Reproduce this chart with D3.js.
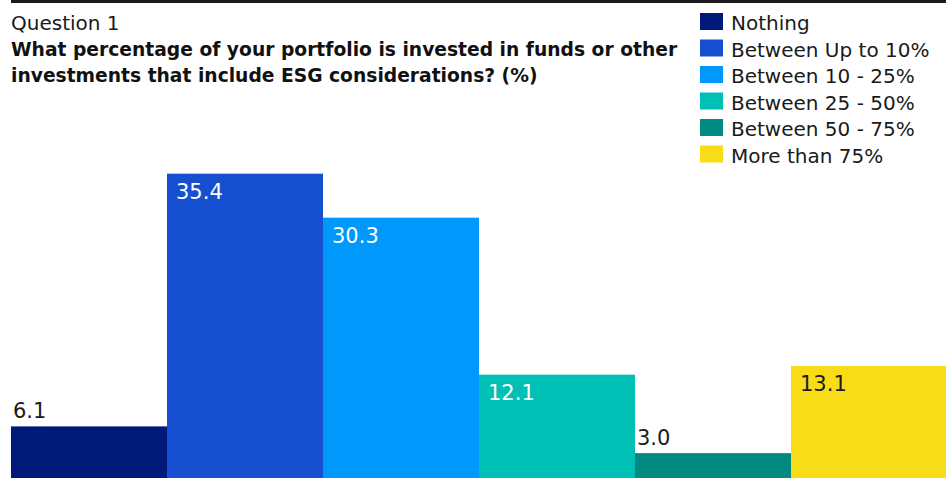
<!DOCTYPE html>
<html>
<head>
<meta charset="utf-8">
<script src="https://cdn.jsdelivr.net/npm/d3@7"></script>
<style>
  html, body { margin: 0; padding: 0; background: #fff; }
  svg { display: block; font-family: "DejaVu Sans", sans-serif; }
</style>
</head>
<body>
<div id="chart"></div>
<script>
// categories and values
const categories = ['Nothing', 'Between Up to 10%', 'Between 10 - 25%', 'Between 25 - 50%', 'Between 50 - 75%', 'More than 75%'];
const values = [6.1, 35.4, 30.3, 12.1, 3.0, 13.1];
const colors = ['#001a7a', '#1650d0', '#0098fa', '#00c0b5', '#008a80', '#f8dc18'];
const labelColors = ['#1a1a1a', '#ffffff', '#ffffff', '#ffffff', '#1a1a1a', '#1a1a1a'];

const questionLabel = 'Question 1';
const titleLines = [
    'What percentage of your portfolio is invested in funds or other',
    'investments that include ESG considerations? (%)'
];

const width = 946, height = 478;

const svg = d3.select('#chart').append('svg')
    .attr('width', width)
    .attr('height', height);

// top rule
svg.append('rect')
    .attr('x', 11).attr('y', 0)
    .attr('width', width - 11).attr('height', 3)
    .attr('fill', '#1a1a1a');

// title
svg.append('text')
    .attr('x', 11).attr('y', 30)
    .attr('font-size', 20)
    .attr('fill', '#1a1a1a')
    .text(questionLabel);

svg.selectAll('text.title')
    .data(titleLines)
    .enter().append('text')
    .attr('class', 'title')
    .attr('x', 11)
    .attr('y', (d, i) => 56 + i * 26)
    .attr('font-size', 18.7)
    .attr('font-weight', 'bold')
    .attr('fill', '#111')
    .text(d => d);

// scales
const x = d3.scaleBand()
    .domain(categories)
    .range([11, 947])
    .padding(0);

const y = d3.scaleLinear()
    .domain([0, 40])
    .range([479, 134]);

const bars = svg.append('g');

bars.selectAll('rect')
    .data(values)
    .enter().append('rect')
    .attr('x', (d, i) => x(categories[i]))
    .attr('y', d => y(d))
    .attr('width', x.bandwidth())
    .attr('height', d => y(0) - y(d))
    .attr('fill', (d, i) => colors[i]);

// value labels: inside the bar when it is tall enough, above it otherwise
bars.selectAll('text')
    .data(values)
    .enter().append('text')
    .attr('x', (d, i) => x(categories[i]) + (d < 8 ? 2 : 9))
    .attr('y', d => d < 8 ? y(d) - 8 : y(d) + 25)
    .attr('font-size', 21)
    .attr('fill', (d, i) => d < 8 ? '#1a1a1a' : labelColors[i])
    .text(d => d.toFixed(1));

// legend
const legend = svg.append('g')
    .attr('transform', 'translate(700,0)');

const rows = legend.selectAll('g')
    .data(categories)
    .enter().append('g')
    .attr('transform', (d, i) => `translate(0,${13 + i * 26.5})`);

rows.append('rect')
    .attr('width', 23)
    .attr('height', 17)
    .attr('fill', (d, i) => colors[i]);

rows.append('text')
    .attr('x', 31)
    .attr('y', 17)
    .attr('font-size', 20)
    .attr('fill', '#1a1a1a')
    .text(d => d);
</script>
</body>
</html>
